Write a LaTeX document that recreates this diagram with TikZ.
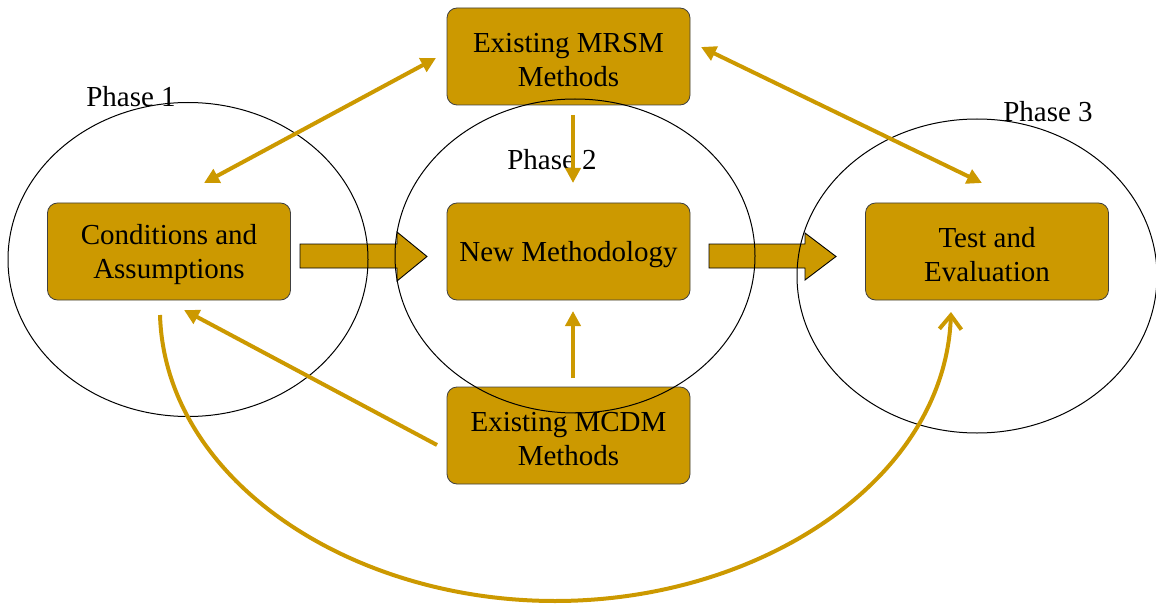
\documentclass[tikz,border=0pt]{standalone}
\usepackage{fontspec}
\setmainfont{Liberation Serif}
\usetikzlibrary{shapes.geometric,arrows.meta,calc}
\definecolor{gold}{HTML}{CC9900}
\begin{document}
\begin{tikzpicture}[x=1pt,y=-1pt,
  box/.style={draw=black!75, line width=0.8pt, fill=gold, rounded corners=10pt,
    minimum width=243pt, minimum height=97pt, inner sep=0pt},
  boxtext/.style={align=center, inner sep=0pt, yshift=-3.5pt,
    font=\fontsize{29}{34}\selectfont},
  phase/.style={draw=black, line width=1pt, ellipse, minimum width=360pt,
    minimum height=314pt, inner sep=0pt},
  lbl/.style={font=\fontsize{29}{34}\selectfont, inner sep=0pt},
  blk/.style={draw=black, line width=0.9pt, fill=gold},
  conn/.style={draw=gold, line width=4pt},
  tip/.tip={Triangle[length=15pt,width=15pt]},
  barb/.tip={Straight Barb[length=14pt,width=22pt,line width=4pt]}
]
\useasboundingbox (0,0) rectangle (1156,604);

% boxes
\node[box, label={[boxtext]center:{Conditions and\\Assumptions}}] (ca) at (169,251.5) {};
\node[box, label={[boxtext]center:{New Methodology}}] (nm) at (568.5,251.5) {};
\node[box, label={[boxtext]center:{Test and\\Evaluation}}] (te) at (987,251.5) {};
\node[box, label={[boxtext]center:{Existing MRSM\\Methods}}] (mrsm) at (568.5,56.5) {};
\node[box, label={[boxtext]center:{Existing MCDM\\Methods}}] (mcdm) at (568.5,435.5) {};

% block arrows
\draw[blk] (300,244) -- (397,244) -- (397,232) -- (427,256.5) -- (397,281) -- (397,268) -- (300,268) -- cycle;
\draw[blk] (709,244) -- (805,244) -- (805,233) -- (836,256.5) -- (805,280) -- (805,268) -- (709,268) -- cycle;

% phase ellipses
\node[phase] (e1) at (188,259.5) {};
\node[phase] (e2) at (575,256) {};
\node[phase] (e3) at (977,276) {};

% phase labels
\node[lbl] (p1) at (131,97) {Phase 1};
\node[lbl] (p2) at (552,160) {Phase 2};
\node[lbl] (p3) at (1048,112) {Phase 3};

% connector end points
\coordinate (a1) at (436,58);
\coordinate (a2) at (204,183);
\coordinate (b1) at (701,47);
\coordinate (b2) at (982,183);
\coordinate (c1) at (573,115);
\coordinate (c2) at (573,183);
\coordinate (d1) at (573,378);
\coordinate (d2) at (573,311);
\coordinate (g1) at (437,445);
\coordinate (g2) at (184,310);
\coordinate (f1) at (160,315);
\coordinate (f2) at (951,312);
\coordinate (fm) at (555,601);

% connectors
\draw[conn, {tip}-{tip}] (a1) -- (a2);
\draw[conn, {tip}-{tip}] (b1) -- (b2);
\draw[conn, -{tip}] (c1) -- (c2);
\draw[conn, -{tip}] (d1) -- (d2);
\draw[conn, -{tip}] (g1) -- (g2);
\draw[conn, -{barb}] (f1) .. controls (165,480) and (350,601) .. (fm)
  .. controls (760,601) and (945,480) .. (f2);
\end{tikzpicture}
\end{document}
